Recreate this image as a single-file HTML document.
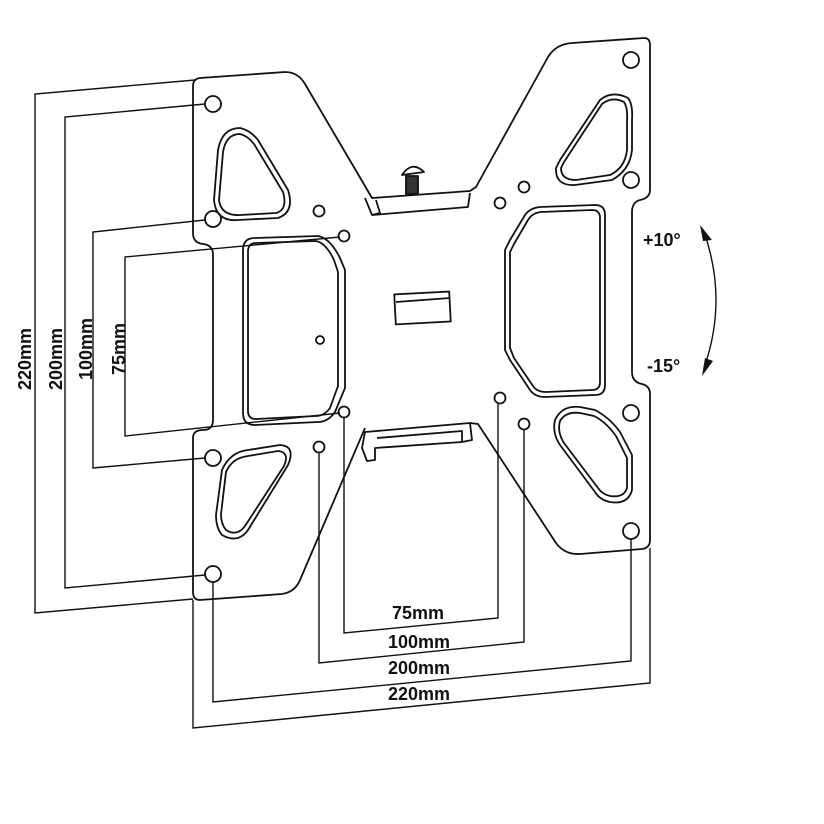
<!DOCTYPE html>
<html><head><meta charset="utf-8"><style>
html,body{margin:0;padding:0;background:#fff;}
svg{display:block}
text{font-family:"Liberation Sans",Arial,sans-serif;font-weight:bold;fill:#111;}
</style></head><body>
<svg width="824" height="824" viewBox="0 0 824 824" xmlns="http://www.w3.org/2000/svg">
<g fill="none" stroke="#111" stroke-width="1.8" stroke-linejoin="round">
<path d="M200,78 L285,72 Q298,72 305,84 L365,186 L372,198 L470,191 L476,187 L548,57 Q556,44 572,43 L644,38 Q650,38 650,45 L650,190 Q650,198 640,200 Q632,202 632,212 L632,372 Q632,382 642,384 Q650,386 650,394 L650,540 Q650,548 642,549 L580,554 Q565,555 556,543 L478,424 L470,423"/>
<path d="M365,428 L300,580 Q295,592 282,594 L200,600 Q193,600 193,592 L193,438 Q193,430 203,430 Q213,430 213,420 L213,255 Q213,245 203,244 Q193,243 193,233 L193,86 Q193,79 200,78"/>
<path d="M365,198 L372,215 L468,207 L470,193"/>
<path d="M372,215 L380,213 L376,200"/>
<path d="M402,175 Q412,160 424,172 Z" fill="#fff"/>
<rect x="406" y="176" width="12" height="18" fill="#333" stroke="#111"/>
<path d="M365,432 L470,423 L472,440 L462,442 L375,448 L375,460 L367,461 L362,448 Z"/>
<path d="M377,438 L462,431 L462,442"/>
<rect x="395" y="293" width="55" height="30" transform="rotate(-3 422 308)"/>
<line x1="396" y1="302" x2="450" y2="298"/>
<g>
<circle cx="213" cy="104" r="8"/><circle cx="213" cy="219" r="8"/>
<circle cx="213" cy="458" r="8"/><circle cx="213" cy="574" r="8"/>
<circle cx="631" cy="60" r="8"/><circle cx="631" cy="180" r="8"/>
<circle cx="631" cy="413" r="8"/><circle cx="631" cy="531" r="8"/>
<circle cx="319" cy="211" r="5.5"/><circle cx="344" cy="236" r="5.5"/>
<circle cx="344" cy="412" r="5.5"/><circle cx="319" cy="447" r="5.5"/>
<circle cx="524" cy="187" r="5.5"/><circle cx="500" cy="203" r="5.5"/>
<circle cx="500" cy="398" r="5.5"/><circle cx="524" cy="424" r="5.5"/>
</g>
<path d="M218,150 Q222,128 240,128 Q250,130 258,140 L288,190 Q295,212 278,218 L238,220 Q216,222 214,200 Z"/>
<path d="M223,152 Q226,134 240,134 Q248,136 254,144 L283,192 Q288,210 276,213 L240,215 Q221,216 219,200 Z"/>
<path d="M560,160 L600,100 Q612,90 628,98 Q633,104 632,120 L632,150 Q630,170 612,180 L575,185 Q555,186 556,168 Z"/>
<path d="M564,162 L602,104 Q612,96 624,102 Q628,108 627,122 L627,150 Q625,168 610,175 L576,180 Q561,180 561,168 Z"/>
<path d="M222,470 Q230,452 248,450 L280,445 Q296,446 288,465 L248,530 Q238,544 222,535 Q216,528 216,515 Z"/>
<path d="M226,472 Q232,458 248,456 L278,451 Q290,452 284,466 L245,526 Q237,537 226,530 Q221,524 221,514 Z"/>
<path d="M555,420 Q562,405 580,407 L595,410 Q610,418 620,432 L632,455 L632,490 Q628,505 610,502 Q600,500 595,492 L560,445 Q552,433 555,420 Z"/>
<path d="M560,421 Q566,411 580,413 L594,416 Q606,422 616,436 L627,458 L627,488 Q624,498 610,496 Q602,494 598,488 L564,443 Q557,432 560,421 Z"/>
<path d="M255,238 L318,236 Q330,238 340,258 L345,270 L345,388 L335,412 Q328,422 318,422 L255,425 Q243,425 243,413 L243,250 Q243,238 255,238 Z"/>
<path d="M256,243 L316,241 Q326,243 334,260 L338,272 L338,386 L330,408 Q324,416 316,416 L256,419 Q248,419 248,411 L248,252 Q248,243 256,243 Z"/>
<circle cx="320" cy="340" r="4"/>
<path d="M510,240 L525,215 Q530,208 540,207 L595,205 Q605,205 605,215 L605,385 Q605,395 595,395 L545,397 Q535,397 530,390 L510,360 L505,350 L505,250 Z"/>
<path d="M514,244 L528,220 Q532,213 541,212 L592,210 Q600,210 600,218 L600,382 Q600,390 592,390 L546,392 Q537,392 533,386 L514,358 L510,348 L510,252 Z"/>
</g>
<g fill="none" stroke="#111" stroke-width="1.4">
<polyline points="195,80 35,94 35,613 193,599"/>
<polyline points="205,104 65,117 65,588 205,575"/>
<polyline points="205,220 93,232 93,468 205,458"/>
<polyline points="340,237 125,257 125,436 340,413"/>
<polyline points="344,418 344,633 498,618 498,404"/>
<polyline points="319,453 319,663 524,642 524,430"/>
<polyline points="213,582 213,702 631,661 631,539"/>
<polyline points="193,600 193,728 650,683 650,548"/>
<path d="M704,232 Q728,300 704,368"/>
</g>
<path d="M700,225 L712,240 L703,241 Z" fill="#111"/>
<path d="M702,376 L713,361 L705,358 Z" fill="#111"/>
<g font-size="18">
<text x="392" y="619">75mm</text>
<text x="388" y="648">100mm</text>
<text x="388" y="674">200mm</text>
<text x="388" y="700">220mm</text>
<text x="643" y="246">+10°</text>
<text x="647" y="372">-15°</text>
<text transform="translate(31,390) rotate(-90)">220mm</text>
<text transform="translate(62,390) rotate(-90)">200mm</text>
<text transform="translate(92,380) rotate(-90)">100mm</text>
<text transform="translate(125,375) rotate(-90)">75mm</text>
</g>
</svg>
</body></html>
